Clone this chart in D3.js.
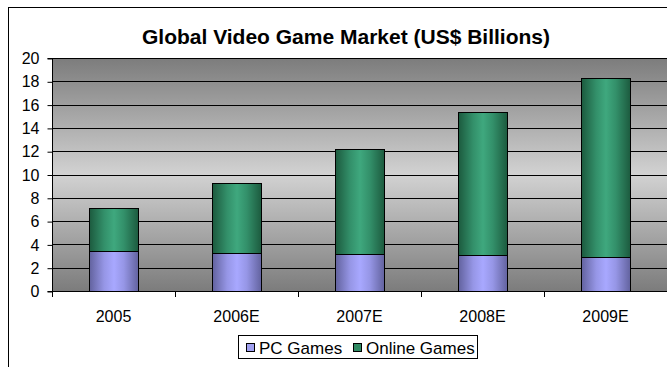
<!DOCTYPE html>
<html><head><meta charset="utf-8">
<script src="https://cdn.jsdelivr.net/npm/d3@7"></script>
<style>body{margin:0;background:#fff;} svg{display:block;font-family:"Liberation Sans",Arial,sans-serif;}</style>
</head><body>
<svg id="c" width="667" height="367"></svg>
<script>
const categories = ["2005","2006E","2007E","2008E","2009E"];
const pcGames = [3.4, 3.3, 3.2, 3.1, 2.9];
const onlineGames = [3.7, 6.0, 9.0, 12.3, 15.4];
const seriesNames = ["PC Games","Online Games"];
const yTicks = [0,2,4,6,8,10,12,14,16,18,20];

const svg = d3.select("#c");
const W = 667, H = 367;
const m = {left:52, right:667, top:58, bottom:291};

const defs = svg.append("defs");
const bg = defs.append("linearGradient").attr("id","bg").attr("x1",0).attr("y1",0).attr("x2",0).attr("y2",1);
bg.append("stop").attr("offset","0%").attr("stop-color","#7c7c7c");
bg.append("stop").attr("offset","50%").attr("stop-color","#d2d2d2");
bg.append("stop").attr("offset","100%").attr("stop-color","#7c7c7c");
function cyl(id, edge, mid, light){
  const g = defs.append("linearGradient").attr("id",id).attr("x1",0).attr("y1",0).attr("x2",1).attr("y2",0);
  g.append("stop").attr("offset","0%").attr("stop-color",edge);
  g.append("stop").attr("offset","30%").attr("stop-color",mid);
  g.append("stop").attr("offset","50%").attr("stop-color",light);
  g.append("stop").attr("offset","70%").attr("stop-color",mid);
  g.append("stop").attr("offset","100%").attr("stop-color",edge);
}
cyl("gpc","#62629e","#9696e6","#a8a8ff");
cyl("gon","#1c5a3e","#33906a","#3fa87e");

// outer border
svg.append("rect").attr("x",8.5).attr("y",7.5).attr("width",W).attr("height",H).attr("fill","none").attr("stroke","#000").attr("stroke-width",1);

svg.append("text").attr("x",346).attr("y",44).attr("text-anchor","middle")
  .attr("font-size",21).attr("font-weight","bold").text("Global Video Game Market (US$ Billions)");

const xb = d3.scaleBand().domain(categories).range([m.left, m.right]);
const y = d3.scaleLinear().domain([0,20]).range([m.bottom, m.top]);

svg.append("rect").attr("x",m.left).attr("y",m.top).attr("width",m.right-m.left).attr("height",m.bottom-m.top).attr("fill","url(#bg)");

svg.append("g").selectAll("line").data(yTicks.filter(d=>d>0)).join("line")
  .attr("x1",m.left).attr("x2",m.right).attr("y1",d=>Math.round(y(d))+0.5).attr("y2",d=>Math.round(y(d))+0.5)
  .attr("stroke","#000").attr("stroke-width",1);

const stackData = categories.map((c,i)=>({cat:c, pc:pcGames[i], online:onlineGames[i]}));
const stack = d3.stack().keys(["pc","online"])(stackData);
const fills = ["url(#gpc)","url(#gon)"];
stack.forEach((s,si)=>{
  svg.append("g").selectAll("rect").data(s).join("rect")
    .attr("x",d=>Math.round(xb(d.data.cat)+xb.bandwidth()/2-25)+0.5)
    .attr("width",49)
    .attr("y",d=>Math.round(y(d[1]))+0.5)
    .attr("height",d=>Math.round(y(d[0]))-Math.round(y(d[1])))
    .attr("fill",fills[si]).attr("stroke","#000").attr("stroke-width",1);
});

// y axis
const ya = d3.axisLeft(y).tickValues(yTicks).tickSize(5).tickPadding(8).tickFormat(d3.format("d"));
const yg = svg.append("g").attr("transform",`translate(${m.left+0.5},0.5)`).call(ya);
yg.select(".domain").attr("d",`M-5,${m.top}H0V${m.bottom}H-5`).attr("stroke","#000");
yg.selectAll("text").attr("font-size",16).attr("fill","#000").attr("font-family","Liberation Sans, Arial, sans-serif");

// x axis
svg.append("line").attr("x1",m.left).attr("x2",m.right).attr("y1",m.bottom+0.5).attr("y2",m.bottom+0.5).attr("stroke","#000");
svg.append("g").selectAll("line").data(categories).join("line")
  .attr("x1",d=>Math.round(xb(d))+0.5).attr("x2",d=>Math.round(xb(d))+0.5)
  .attr("y1",m.bottom).attr("y2",m.bottom+6).attr("stroke","#000");
svg.append("g").selectAll("text").data(categories).join("text")
  .attr("x",d=>xb(d)+xb.bandwidth()/2).attr("y",322).attr("text-anchor","middle")
  .attr("font-size",16).text(d=>d);

// legend
const lg = svg.append("g");
lg.append("rect").attr("x",238.5).attr("y",335.5).attr("width",239).attr("height",23).attr("fill","#fff").attr("stroke","#000");
const legItems = [{name:seriesNames[0], fill:"#a0a0f0", x:246},{name:seriesNames[1], fill:"#2f8a62", x:353}];
legItems.forEach(it=>{
  lg.append("rect").attr("x",it.x+0.5).attr("y",343.5).attr("width",8).attr("height",8).attr("fill",it.fill).attr("stroke","#000");
  lg.append("text").attr("x",it.x+13).attr("y",354).attr("font-size",17).text(it.name);
});
</script>
</body></html>
